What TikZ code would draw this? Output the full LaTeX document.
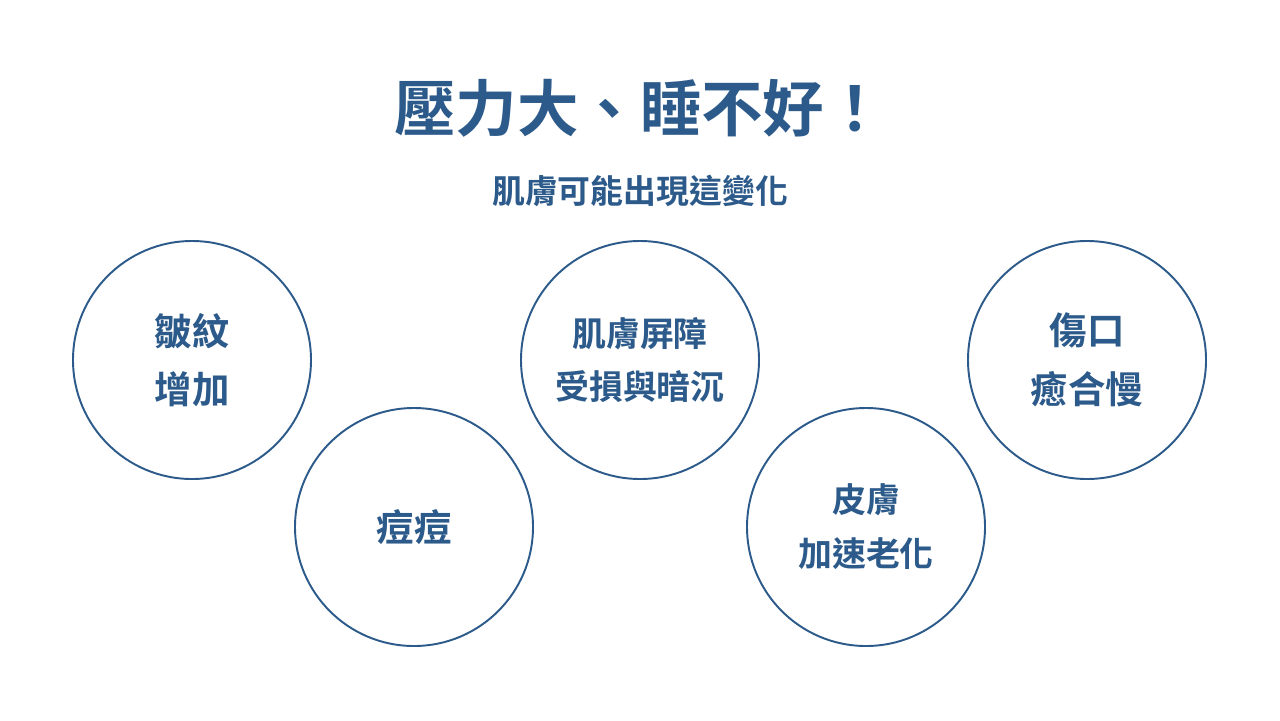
\documentclass[tikz,border=0pt]{standalone}
\usepackage{fontspec}
\newfontfamily\cjk{Noto Sans CJK TC}[BoldFont={Noto Sans CJK TC Bold}]
\definecolor{navy}{RGB}{44,90,138}
\begin{document}
\begin{tikzpicture}[x=0.02cm,y=-0.02cm,
  bubble/.style={circle,draw=navy,line width=1.1pt,minimum size=238*0.02cm,inner sep=0pt},
  lbl/.style={text=navy,align=center,font=\cjk\bfseries\fontsize{19.3pt}{30.6pt}\selectfont},
  lblbig/.style={text=navy,align=center,font=\cjk\bfseries\fontsize{21.3pt}{33.4pt}\selectfont}]
\useasboundingbox[fill=white] (0,0) rectangle (1280,720);
\node[text=navy,font=\cjk\bfseries\fontsize{35pt}{40pt}\selectfont] (title) at (640,108) {壓力大、睡不好！};
\node[text=navy,font=\cjk\bfseries\fontsize{18.7pt}{22pt}\selectfont] (sub) at (640,191) {肌膚可能出現這變化};
\node[bubble] (c1) at (192,360) {};
\node[bubble] (c2) at (414,527) {};
\node[bubble] (c3) at (640,360) {};
\node[bubble] (c4) at (866,527) {};
\node[bubble] (c5) at (1087,360) {};
\node[lblbig] (t1) at (c1) {皺紋\\增加};
\node[lblbig] (t2) at (c2) {痘痘};
\node[lbl] (t3) at (c3) {肌膚屏障\\受損與暗沉};
\node[lbl] (t4) at (c4) {皮膚\\加速老化};
\node[lblbig] (t5) at (c5) {傷口\\癒合慢};
\end{tikzpicture}
\end{document}
